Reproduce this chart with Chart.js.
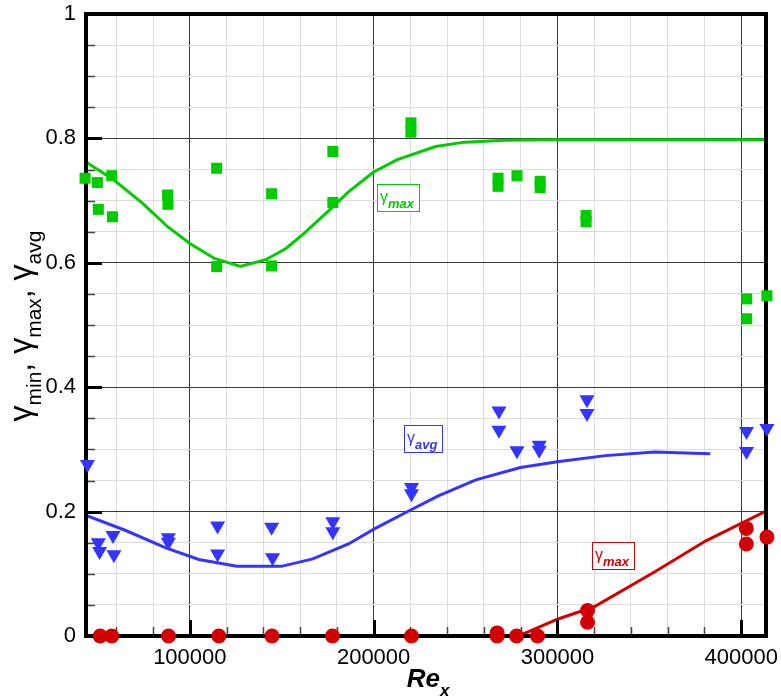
<!DOCTYPE html>
<html>
<head>
<meta charset="utf-8">
<script src="https://cdn.jsdelivr.net/npm/chart.js@4.4.1/dist/chart.umd.min.js"></script>
<style>
  html, body { margin: 0; padding: 0; background: #fff; }
  #wrap { width: 781px; height: 700px; }
</style>
</head>
<body>
<div id="wrap"><canvas id="chart" width="781" height="700"></canvas></div>
<script>
// axis ranges and labelled ticks
const xMin = 43500;
const xMax = 413500;
const xTickLabels = [100000, 200000, 300000, 400000];
const yTickLabels = [0, 0.2, 0.4, 0.6, 0.8, 1];
const xGridStep = 20000;
const yGridStep = 0.05;

// gamma_max measurements (green squares)
const maxX = [43000, 43000, 49700, 50200, 57500, 57900, 87900, 88100, 114600, 114600, 144500, 144500, 177800, 177800,
  220300, 220300, 267700, 267700, 278000, 290600, 290600, 315600, 315600, 403000, 403000, 414000, 414000];
const maxY = [0.752, 0.736, 0.729, 0.686, 0.740, 0.674, 0.709, 0.694, 0.752, 0.594, 0.711, 0.595, 0.779, 0.697,
  0.825, 0.810, 0.736, 0.723, 0.740, 0.731, 0.721, 0.676, 0.666, 0.542, 0.510, 0.547, 0.505];

// gamma_avg measurements (blue triangles)
const avgX = [44300, 50200, 50900, 58200, 58700, 88300, 88300, 115100, 115100, 144500, 145000, 177800, 177800,
  220600, 220600, 268200, 268200, 278000, 290100, 290100, 316100, 316100, 402900, 402900, 414000, 414000];
const avgY = [0.276, 0.150, 0.136, 0.162, 0.131, 0.158, 0.151, 0.177, 0.132, 0.175, 0.126, 0.184, 0.168,
  0.239, 0.229, 0.362, 0.331, 0.298, 0.307, 0.299, 0.380, 0.358, 0.329, 0.297, 0.334, 0.310];

// gamma_min measurements (red circles)
const minX = [51200, 57500, 88400, 115800, 144700, 177600, 220600, 267200, 267200, 277800, 289200, 316400, 316400,
  402800, 402800, 414000];
const minY = [0, 0, 0, 0, 0, 0, 0, 0.005, 0, 0, 0, 0.041, 0.022, 0.173, 0.148, 0.159];

// fitted curves
const maxLineX = [43500, 58700, 74500, 87900, 100000, 113400, 127500, 141300, 152300, 162000, 177800, 186300,
  200000, 212900, 233700, 249500, 271400, 300000, 413500];
const maxLineY = [0.762, 0.733, 0.695, 0.658, 0.631, 0.607, 0.594, 0.605, 0.623, 0.647, 0.690, 0.714,
  0.746, 0.766, 0.787, 0.794, 0.797, 0.798, 0.798];

const avgLineX = [43500, 64800, 86600, 104900, 125500, 149800, 166900, 186300, 200900, 219100, 234900, 255600,
  279900, 300000, 326100, 352800, 383200];
const avgLineY = [0.194, 0.170, 0.142, 0.123, 0.112, 0.112, 0.124, 0.148, 0.173, 0.201, 0.225, 0.251,
  0.271, 0.280, 0.290, 0.296, 0.293];

const minLineX = [43500, 279000, 300000, 320000, 352800, 380800, 413500];
const minLineY = [0, 0, 0.027, 0.047, 0.103, 0.153, 0.201];

const GREEN = 'rgb(0, 204, 0)';
const BLUE = 'rgb(52, 52, 255)';
const RED = 'rgb(210, 0, 0)';
const FONT = "'Liberation Sans', Arial, Helvetica, sans-serif";

// curve labels (top-left corner in data units)
const curveLabels = [
  { sub: 'max', x: 202000, y: 0.727, color: GREEN },
  { sub: 'avg', x: 216500, y: 0.339, color: BLUE },
  { sub: 'max', x: 318800, y: 0.151, color: RED }
];

const pts = (xs, ys) => xs.map((x, i) => ({ x: x, y: ys[i] }));

// every grid position (minor + major) between the axis limits
function gridValues(lo, hi, step) {
  const out = [];
  for (let i = Math.ceil(lo / step - 1e-9); i * step <= hi + 1e-9; i++) {
    out.push(Math.round(i * step * 1000) / 1000);
  }
  return out;
}

function drawRuns(ctx, runs, x, y, center) {
  let total = 0;
  runs.forEach(r => { ctx.font = r[1]; total += ctx.measureText(r[0]).width; });
  let cx = center ? x - total / 2 : x;
  runs.forEach(r => {
    ctx.font = r[1];
    ctx.fillText(r[0], cx, y + r[2]);
    cx += ctx.measureText(r[0]).width;
  });
  return total;
}

const isMajorX = v => xTickLabels.some(t => Math.abs(t - v) < 1e-3);
const isMajorY = v => yTickLabels.some(t => Math.abs(t - v) < 1e-6);

let framed = false;
const framePlugin = {
  id: 'frame',
  beforeDatasetsDraw() { framed = false; },
  beforeDatasetDraw(chart, args) {
    // frame goes above the curves but below the markers
    if (framed || chart.data.datasets[args.index].kind !== 'marks') return;
    framed = true;
    const { ctx, chartArea: a, scales: { x, y } } = chart;
    ctx.save();
    x.ticks.forEach(t => {
      const major = isMajorX(t.value);
      const px = Math.round(x.getPixelForValue(t.value)) + 0.5;
      ctx.lineWidth = major ? 3 : 1.5;
      ctx.strokeStyle = major ? '#000' : '#444';
      ctx.beginPath();
      ctx.moveTo(px, a.bottom);
      ctx.lineTo(px, a.bottom - (major ? 16 : 9));
      ctx.stroke();
    });
    y.ticks.forEach(t => {
      const major = isMajorY(t.value);
      const py = Math.round(y.getPixelForValue(t.value)) + 0.5;
      ctx.lineWidth = major ? 3 : 1.5;
      ctx.strokeStyle = major ? '#000' : '#444';
      ctx.beginPath();
      ctx.moveTo(a.left, py);
      ctx.lineTo(a.left + (major ? 16 : 9), py);
      ctx.stroke();
    });
    ctx.lineWidth = 4;
    ctx.strokeStyle = '#000';
    ctx.strokeRect(a.left, a.top, a.right - a.left, a.bottom - a.top);
    ctx.restore();
  },
  afterDraw(chart) {
    const { ctx, chartArea: a, scales: { x, y } } = chart;
    ctx.save();
    ctx.fillStyle = '#000';
    ctx.textBaseline = 'alphabetic';

    // x title: Re_x
    drawRuns(ctx, [
      ['Re', 'bold italic 26px ' + FONT, 0],
      ['x', 'bold italic 17px ' + FONT, 9]
    ], (a.left + a.right) / 2 + 2, 687, true);

    // y title: gamma_min, gamma_max, gamma_avg
    ctx.save();
    ctx.translate(31, 326);
    ctx.rotate(-Math.PI / 2);
    const big = '32px ' + FONT, small = '21px ' + FONT;
    drawRuns(ctx, [
      ['γ', big, 0], ['min', small, 10], [', ', big, 0],
      ['γ', big, 0], ['max', small, 10], [', ', big, 0],
      ['γ', big, 0], ['avg', small, 10]
    ], 0, 0, true);
    ctx.restore();

    // boxed curve labels
    curveLabels.forEach(l => {
      const bx = Math.round(x.getPixelForValue(l.x));
      const by = Math.round(y.getPixelForValue(l.y));
      ctx.font = '16px ' + FONT;
      const wg = ctx.measureText('γ').width;
      ctx.font = 'bold italic 13px ' + FONT;
      const ws = ctx.measureText(l.sub).width;
      const w = Math.round(3 + wg + 1 + ws + 4);
      ctx.fillStyle = '#fff';
      ctx.fillRect(bx, by, w, 27);
      ctx.strokeStyle = l.color;
      ctx.lineWidth = 1;
      ctx.strokeRect(bx + 0.5, by + 0.5, w, 27);
      ctx.fillStyle = l.color;
      drawRuns(ctx, [
        ['γ', '16px ' + FONT, 0],
        [l.sub, 'bold italic 13px ' + FONT, 6.5]
      ], bx + 3, by + 17.5, false);
    });
    ctx.restore();
  }
};

const markStyle = { kind: 'marks', showLine: false, order: 0, clip: false, pointBorderWidth: 0 };
const lineStyle = { kind: 'curve', showLine: true, order: 1, pointRadius: 0, borderWidth: 3, tension: 0, fill: false };

new Chart(document.getElementById('chart'), {
  type: 'scatter',
  data: {
    datasets: [
      Object.assign({ data: pts(maxX, maxY), backgroundColor: GREEN, borderColor: GREEN,
        pointStyle: 'rect', pointRadius: 7.8 }, markStyle),
      Object.assign({ data: pts(avgX, avgY), backgroundColor: BLUE, borderColor: BLUE,
        pointStyle: 'triangle', pointRotation: 180, pointRadius: 8.7 }, markStyle),
      Object.assign({ data: pts(minX, minY), backgroundColor: RED, borderColor: RED,
        pointStyle: 'circle', pointRadius: 7.5 }, markStyle),
      Object.assign({ data: pts(maxLineX, maxLineY), borderColor: GREEN }, lineStyle),
      Object.assign({ data: pts(avgLineX, avgLineY), borderColor: BLUE }, lineStyle),
      Object.assign({ data: pts(minLineX, minLineY), borderColor: RED }, lineStyle)
    ]
  },
  options: {
    responsive: false,
    animation: false,
    events: [],
    layout: { padding: { top: 14, right: 15, left: 0, bottom: 0 } },
    plugins: { legend: { display: false }, tooltip: { enabled: false } },
    scales: {
      x: {
        type: 'linear',
        min: xMin,
        max: xMax,
        afterBuildTicks: s => { s.ticks = gridValues(xMin, xMax, xGridStep).map(v => ({ value: v })); },
        afterFit: s => { s.height = 64; s.paddingLeft = 0; s.paddingRight = 0; },
        border: { display: false },
        grid: {
          drawTicks: false,
          lineWidth: 1,
          color: c => isMajorX(c.tick.value) ? '#3a3a3a' : '#dcdcdc'
        },
        ticks: {
          autoSkip: false,
          maxRotation: 0,
          padding: 9,
          color: '#000',
          font: { family: FONT, size: 22 },
          callback: v => isMajorX(v) ? String(Math.round(v)) : ''
        }
      },
      y: {
        type: 'linear',
        min: 0,
        max: 1,
        afterBuildTicks: s => { s.ticks = gridValues(0, 1, yGridStep).map(v => ({ value: v })); },
        afterFit: s => { s.width = 86; s.paddingTop = 0; s.paddingBottom = 0; },
        border: { display: false },
        grid: {
          drawTicks: false,
          lineWidth: 1,
          color: c => isMajorY(c.tick.value) ? '#3a3a3a' : '#dcdcdc'
        },
        ticks: {
          autoSkip: false,
          padding: 10,
          color: '#000',
          font: { family: FONT, size: 22 },
          callback: v => isMajorY(v) ? String(Math.round(v * 10) / 10) : ''
        }
      }
    }
  },
  plugins: [framePlugin]
});
</script>
</body>
</html>
